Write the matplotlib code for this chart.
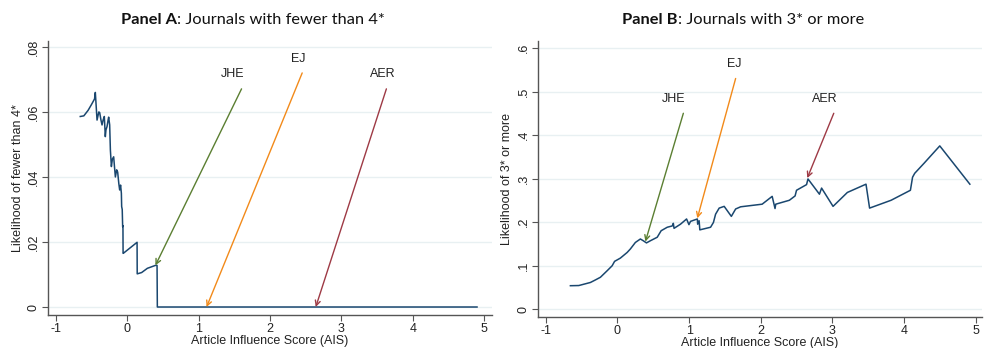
import matplotlib
matplotlib.use("Agg")
import matplotlib.pyplot as plt
from matplotlib.offsetbox import TextArea, HPacker, AnchoredOffsetbox

# Panel A: likelihood of fewer than 4*
ais_a = [-0.66, -0.61, -0.55, -0.505, -0.46, -0.449, -0.425, -0.40, -0.388, -0.37,
         -0.355, -0.34, -0.323, -0.309, -0.30, -0.285, -0.27, -0.262, -0.248, -0.238,
         -0.224, -0.21, -0.192, -0.18, -0.168, -0.15, -0.136, -0.12, -0.108, -0.095,
         -0.084, -0.080, -0.072, -0.066, -0.062, -0.060, -0.052, 0.136, 0.138, 0.20,
         0.28, 0.393, 0.416, 0.42, 4.90]
lik_a = [0.0586, 0.0588, 0.0605, 0.0622, 0.0640, 0.0660, 0.0575, 0.0600, 0.0598, 0.0575,
         0.0560, 0.0575, 0.0586, 0.0524, 0.0545, 0.0555, 0.0575, 0.0584, 0.0560, 0.0483,
         0.0432, 0.0455, 0.0462, 0.0430, 0.0400, 0.0422, 0.0415, 0.0380, 0.0360, 0.0375,
         0.0350, 0.0309, 0.0300, 0.0247, 0.0250, 0.0165, 0.0166, 0.0199, 0.0102, 0.0106,
         0.0119, 0.0128, 0.0128, 0.0, 0.0]

# Panel B: likelihood of 3* or more
ais_b = [-0.657, -0.54, -0.378, -0.31, -0.238, -0.144, -0.074, -0.04, 0.04, 0.135,
         0.18, 0.25, 0.32, 0.36, 0.405, 0.46, 0.555, 0.61, 0.695, 0.765,
         0.78, 0.79, 0.88, 0.965, 0.998, 1.02, 1.115, 1.12, 1.14, 1.15,
         1.30, 1.34, 1.37, 1.42, 1.49, 1.59, 1.65, 1.72, 2.02, 2.16,
         2.20, 2.21, 2.40, 2.48, 2.50, 2.64, 2.66, 2.82, 2.85, 3.01,
         3.21, 3.47, 3.52, 3.82, 4.09, 4.12, 4.15, 4.28, 4.50, 4.92]
lik_b = [0.0536, 0.054, 0.061, 0.0667, 0.073, 0.088, 0.0995, 0.1096, 0.117, 0.130,
         0.138, 0.153, 0.161, 0.157, 0.152, 0.157, 0.165, 0.180, 0.188, 0.191,
         0.197, 0.1855, 0.195, 0.207, 0.194, 0.2015, 0.207, 0.195, 0.203, 0.182,
         0.188, 0.199, 0.218, 0.232, 0.236, 0.213, 0.230, 0.235, 0.241, 0.259,
         0.231, 0.241, 0.250, 0.260, 0.273, 0.286, 0.299, 0.264, 0.278, 0.236,
         0.268, 0.287, 0.232, 0.250, 0.273, 0.303, 0.312, 0.335, 0.375, 0.287]

# journal annotations: label, text pos, arrow start, arrow tip
notes_a = [("JHE", (1.47, 0.0698), (1.60, 0.0671), (0.393, 0.0128)),
           ("EJ", (2.40, 0.0745), (2.45, 0.0720), (1.11, 0.0)),
           ("AER", (3.58, 0.0698), (3.63, 0.0671), (2.64, 0.0))]
notes_b = [("JHE", (0.79, 0.469), (0.92, 0.450), (0.39, 0.155)),
           ("EJ", (1.63, 0.549), (1.65, 0.530), (1.115, 0.2085)),
           ("AER", (2.89, 0.469), (3.02, 0.450), (2.65, 0.301))]
note_colors = {"JHE": "#5b7f32", "EJ": "#f28a1a", "AER": "#9e3a45"}

NAVY = "#1a476f"
GRID = "#e8f0f2"
SPINE = "#555555"

fig = plt.figure(figsize=(9.84, 3.48), dpi=100)
ax_a = fig.add_axes([0.0488, 0.0948, 0.4512, 0.7872])
ax_b = fig.add_axes([0.5467, 0.0890, 0.4513, 0.7930])


def style(ax, yticks, ylabels, ylim, ylabel, title):
    ax.set_xlim(-1.112, 5.11)
    ax.set_ylim(*ylim)
    ax.set_xticks(range(-1, 6))
    ax.set_xticklabels([str(v) for v in range(-1, 6)], family="Liberation Sans", fontsize=9)
    ax.set_yticks(yticks)
    ax.set_yticklabels(ylabels, family="Liberation Sans", fontsize=9,
                       rotation=90, va="center")
    ax.yaxis.grid(True, color=GRID, linewidth=1.0)
    ax.set_axisbelow(True)
    for s in ["top", "right"]:
        ax.spines[s].set_visible(False)
    for s in ["left", "bottom"]:
        ax.spines[s].set_color(SPINE)
        ax.spines[s].set_linewidth(1.0)
    ax.tick_params(color=SPINE, length=4, width=0.8, pad=2, labelcolor="#222222")
    ax.set_xlabel("Article Influence Score (AIS)", family="Liberation Sans",
                  fontsize=9, labelpad=0, color="#222222")
    ax.set_ylabel(ylabel, family="Liberation Sans", fontsize=9, labelpad=3,
                  color="#222222")
    # title: bold panel name followed by normal text
    parts = [TextArea(title[0], textprops=dict(family="Lato", fontsize=11.8,
                                               weight="bold", color="#111111")),
             TextArea(title[1], textprops=dict(family="Lato", fontsize=11.8,
                                               color="#111111"))]
    box = HPacker(children=parts, align="baseline", pad=0, sep=0)
    anch = AnchoredOffsetbox(loc="lower center", child=box, pad=0, frameon=False,
                             bbox_to_anchor=(0.462, 1.05), bbox_transform=ax.transAxes,
                             borderpad=0)
    ax.add_artist(anch)


def annotate(ax, notes):
    for name, tpos, start, tip in notes:
        c = note_colors[name]
        ax.text(tpos[0], tpos[1], name, ha="center", va="bottom",
                family="Liberation Sans", fontsize=9, color="#222222")
        ax.annotate("", xy=tip, xytext=start,
                    arrowprops=dict(arrowstyle="->", color=c, lw=1.0,
                                    shrinkA=0, shrinkB=0, mutation_scale=9))


ax_a.plot(ais_a, lik_a, color=NAVY, lw=1.1)
style(ax_a, [0, 0.02, 0.04, 0.06, 0.08], ["0", ".02", ".04", ".06", ".08"],
      (-0.00246, 0.0818), "Likelihood of fewer than 4*",
      ("Panel A", ": Journals with fewer than 4*"))
annotate(ax_a, notes_a)

ax_b.plot(ais_b, lik_b, color=NAVY, lw=1.1)
style(ax_b, [0, 0.1, 0.2, 0.3, 0.4, 0.5, 0.6], ["0", ".1", ".2", ".3", ".4", ".5", ".6"],
      (-0.0184, 0.616), "Likelihood of 3* or more",
      ("Panel B", ": Journals with 3* or more"))
ax_b.set_xlim(-1.11, 5.09)
annotate(ax_b, notes_b)

fig.savefig("out.png", dpi=100)
